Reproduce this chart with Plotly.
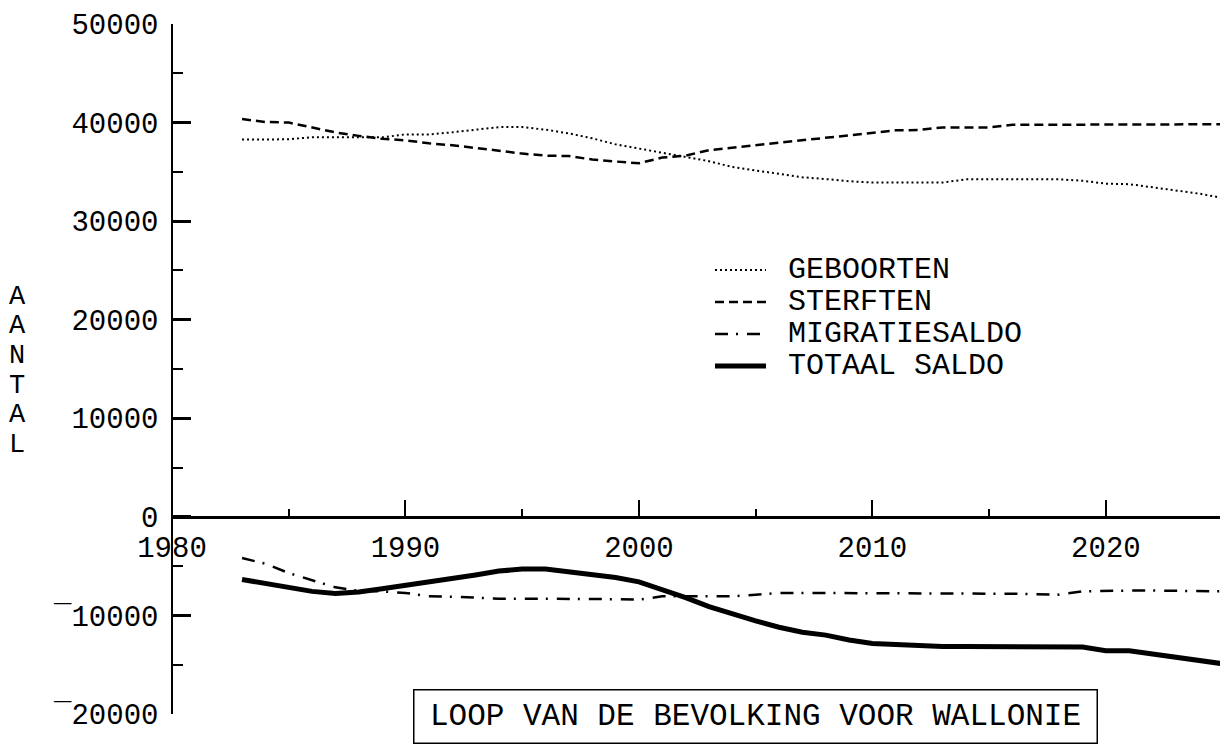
import plotly.graph_objects as go

# ---------------- data ----------------
years = list(range(1983, 2026))

geboorten = [38280, 38280, 38300, 38520, 38520, 38480, 38500, 38800, 38800, 39010,
             39280, 39540, 39540, 39280, 38900, 38400, 37790, 37350, 36970, 36500,
             36085, 35490, 35150, 34800, 34450, 34270, 34050, 33910, 33910, 33910,
             33910, 34240, 34240, 34240, 34240, 34240, 34100, 33800, 33750, 33440,
             33100, 32790, 32350]

sterften = [40360, 40060, 40000, 39500, 39000, 38650, 38350, 38200, 37900, 37700,
            37450, 37150, 36850, 36650, 36600, 36250, 36050, 35870, 36450, 36650,
            37200, 37450, 37700, 37950, 38200, 38450, 38700, 38940, 39210, 39250,
            39510, 39510, 39510, 39770, 39770, 39770, 39770, 39770, 39770, 39770,
            39770, 39830, 39830]

migratiesaldo = [-4180, -4750, -5700, -6400, -7150, -7500, -7560, -7720, -8060, -8100,
                 -8200, -8300, -8300, -8300, -8300, -8300, -8350, -8400, -8060, -8060,
                 -8060, -8060, -7900, -7720, -7720, -7720, -7720, -7720, -7720, -7720,
                 -7720, -7720, -7790, -7800, -7850, -7890, -7550, -7480, -7480, -7480,
                 -7500, -7550, -7550]

totaal_saldo = [-6360, -6720, -7120, -7560, -7780, -7620, -7300, -6950, -6560, -6330,
                -5900, -5500, -5300, -5300, -5550, -5800, -6150, -6600, -7360, -8200,
                -9100, -9850, -10560, -11200, -11700, -12000, -12500, -12850, -12950, -13150,
                -13150, -13150, -13150, -13150, -13170, -13190, -13210, -13580, -13580, -13920,
                -14250, -14600, -14900]

series_names = ["GEBOORTEN", "STERFTEN", "MIGRATIESALDO", "TOTAAL SALDO"]

y_tickvals = [50000, 40000, 30000, 20000, 10000, 0, -10000, -20000]
y_ticktext = ["50000", "40000", "30000", "20000", "10000", "0", "\u00af10000", "\u00af20000"]
y_minorvals = [45000, 35000, 25000, 15000, 5000, -5000, -15000]

x_tickvals = [1980, 1990, 2000, 2010, 2020]
x_ticktext = ["1980", "1990", "2000", "2010", "2020"]
x_minorvals = [1985, 1995, 2005, 2015, 2025]

y_title = "AANTAL"
chart_title = "LOOP VAN DE BEVOLKING VOOR WALLONIE"

# ---------------- styling ----------------
FONT = "Liberation Mono"
OFF = 8                      # page body margin of the html page
W, H = 1228 - OFF, 744 - OFF
ML, MR, MT, MB = 172 - OFF, 0, 24 - OFF, 30
PW, PH = W - ML - MR, H - MT - MB
YMIN, YMAX = -20000, 50000

styles = [
    dict(color="black", width=2, dash="2px,3px"),
    dict(color="black", width=2.5, dash="9px,5px"),
    dict(color="black", width=2.5, dash="13px,8px,2px,9px"),
    dict(color="black", width=5, dash="solid"),
]
series = [geboorten, sterften, migratiesaldo, totaal_saldo]

fig = go.Figure()
for name, vals, st in zip(series_names, series, styles):
    fig.add_trace(go.Scatter(x=years, y=vals, mode="lines", name=name,
                             line=st, showlegend=False))


def px_x(p):  # page pixel -> paper x
    return (p - OFF - ML) / PW


def px_y(p):  # page pixel -> paper y
    return (H - MB - (p - OFF)) / PH


# manual legend (sample line + label)
leg_y = [270, 302, 334, 366]
for name, st, yy in zip(series_names, styles, leg_y):
    fig.add_shape(type="line", xref="paper", yref="paper",
                  x0=px_x(715), x1=px_x(766), y0=px_y(yy), y1=px_y(yy),
                  line=st)
    fig.add_annotation(text=name, xref="paper", yref="paper",
                       x=px_x(786), y=px_y(yy), xanchor="left", yanchor="middle",
                       showarrow=False, font=dict(family=FONT, size=30, color="black"))

# vertical stacked y-axis title, one upright letter per row
for i, ch in enumerate(y_title):
    fig.add_annotation(text=ch, xref="paper", yref="paper",
                       x=px_x(17), y=px_y(297 + i * 29.5), xanchor="center", yanchor="middle",
                       showarrow=False, font=dict(family=FONT, size=27, color="black"))

# boxed title
fig.add_annotation(text=chart_title, xref="paper", yref="paper",
                   x=px_x(755), y=px_y(716), xanchor="center", yanchor="middle",
                   showarrow=False, width=664, height=34, borderpad=9,
                   bordercolor="black", borderwidth=1.5, bgcolor="white",
                   font=dict(family=FONT, size=31, color="black"))

fig.update_layout(
    width=W, height=H,
    margin=dict(l=ML, r=MR, t=MT, b=MB, pad=0),
    paper_bgcolor="white", plot_bgcolor="white",
    showlegend=False,
    font=dict(family=FONT, size=30, color="black"),
    xaxis=dict(
        range=[1980, 2025.23], anchor="free",
        position=(0 - YMIN) / (YMAX - YMIN),
        showgrid=False, zeroline=False,
        showline=True, linecolor="black", linewidth=2.5,
        tickmode="array", tickvals=x_tickvals, ticktext=x_ticktext,
        ticks="inside", ticklen=16, tickwidth=1.5, tickcolor="black",
        ticklabelstandoff=4,
        minor=dict(tickmode="array", tickvals=x_minorvals, ticks="inside",
                   ticklen=7, tickwidth=1.5, tickcolor="black", showgrid=False),
        tickfont=dict(family=FONT, size=29, color="black"),
    ),
    yaxis=dict(
        range=[YMIN, YMAX], anchor="free", position=0,
        showgrid=False, zeroline=False,
        showline=True, linecolor="black", linewidth=1.5,
        tickmode="array", tickvals=y_tickvals, ticktext=y_ticktext,
        ticks="inside", ticklen=18, tickwidth=2.5, tickcolor="black",
        ticklabelstandoff=7,
        minor=dict(tickmode="array", tickvals=y_minorvals, ticks="inside",
                   ticklen=10, tickwidth=2, tickcolor="black", showgrid=False),
        tickfont=dict(family=FONT, size=29, color="black"),
    ),
)

fig.write_html("out.html")
